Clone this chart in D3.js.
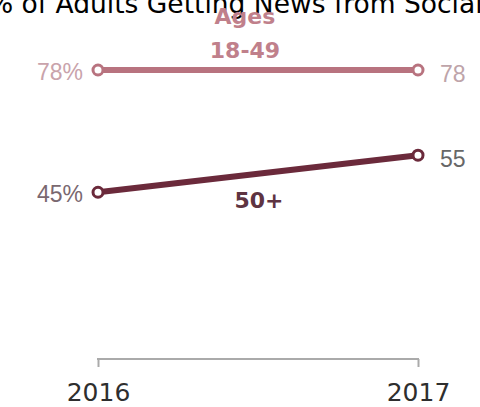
<!DOCTYPE html>
<html>
<head>
<meta charset="utf-8">
<script src="https://cdn.jsdelivr.net/npm/d3@7"></script>
<style>
  html, body { margin: 0; padding: 0; background: #fff; overflow: hidden; }
  svg { display: block; }
</style>
</head>
<body>
<svg id="chart" width="480" height="407"></svg>
<script>
const years = [2016, 2017];
const seriesNames = ["Ages\n18-49", "50+"];
const young = [78, 78];
const older = [45, 55];
const startLabels = ["78%", "45%"];
const endLabels = ["78", "55"];
const title = "% of Adults Getting News from Social Media";

const svg = d3.select("#chart");
const x = d3.scalePoint().domain(years).range([98, 418]);
const y = d3.scaleLinear().domain([0, 78]).range([359, 70]);

// title (clipped at top)
svg.append("text")
  .attr("x", -12).attr("y", 13)
  .attr("font-family", "DejaVu Sans, sans-serif")
  .attr("font-size", 26.5)
  .attr("fill", "#000")
  .text(title);

// axis bracket
const axis = d3.axisBottom(x).tickSize(-8).tickFormat(d => d).tickSizeOuter(0);
const ag = svg.append("g").attr("transform", "translate(0,367)");
ag.call(axis);
ag.select(".domain").remove();
ag.selectAll(".tick line").attr("stroke", "#aaa").attr("stroke-width", 2);
ag.append("line").attr("x1", x(2016) - 1).attr("x2", x(2017) + 1).attr("y1", -8).attr("y2", -8)
  .attr("stroke", "#aaa").attr("stroke-width", 2);
ag.selectAll(".tick text")
  .attr("y", 34).attr("dy", 0)
  .attr("font-family", "DejaVu Sans, sans-serif")
  .attr("font-size", 25)
  .attr("fill", "#2e2e2e");

const series = [
  { name: seriesNames[0], vals: young, color: "#b8737f", labelColor: "#c9a3ab", endColor: "#bea4a9" },
  { name: seriesNames[1], vals: older, color: "#6b2a3b", labelColor: "#7a6870", endColor: "#676767" }
];

const line = d3.line().x((d, i) => x(years[i])).y(d => y(d));

series.forEach((s, si) => {
  svg.append("path").datum(s.vals)
    .attr("d", line)
    .attr("fill", "none")
    .attr("stroke", s.color)
    .attr("stroke-width", 6);
  svg.selectAll(null).data(s.vals).enter().append("circle")
    .attr("cx", (d, i) => x(years[i]))
    .attr("cy", d => y(d))
    .attr("r", 5)
    .attr("fill", "#fff")
    .attr("stroke", s.color)
    .attr("stroke-width", 3);
  svg.append("text")
    .attr("x", x(years[0]) - 15).attr("y", y(s.vals[0]) + 10)
    .attr("text-anchor", "end")
    .attr("font-family", "Liberation Sans, Arial, sans-serif")
    .attr("font-size", 23)
    .attr("fill", s.labelColor)
    .text(startLabels[si]);
  svg.append("text")
    .attr("x", x(years[1]) + 22).attr("y", y(s.vals[1]) + 12)
    .attr("text-anchor", "start")
    .attr("font-family", "Liberation Sans, Arial, sans-serif")
    .attr("font-size", 23)
    .attr("fill", s.endColor)
    .text(endLabels[si]);
});

// series name labels
const nameFont = "DejaVu Sans, sans-serif";
const t1 = svg.append("text")
  .attr("text-anchor", "middle")
  .attr("font-family", nameFont).attr("font-weight", "bold")
  .attr("font-size", 22).attr("fill", "#c0808b");
seriesNames[0].split("\n").forEach((ln, i) => {
  t1.append("tspan").attr("x", 245).attr("y", 24 + i * 34).text(ln);
});
svg.append("text")
  .attr("x", 259).attr("y", 208)
  .attr("text-anchor", "middle")
  .attr("font-family", nameFont).attr("font-weight", "bold")
  .attr("font-size", 22).attr("fill", "#5e3442")
  .text(seriesNames[1]);
</script>
</body>
</html>
